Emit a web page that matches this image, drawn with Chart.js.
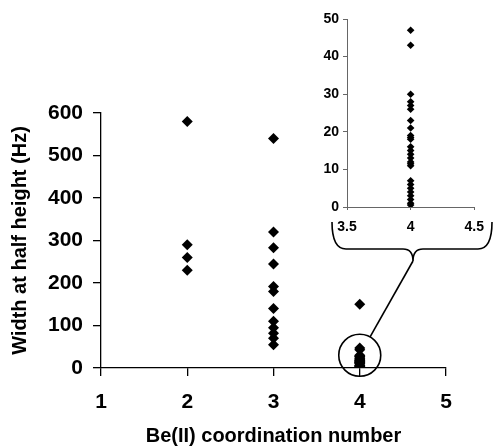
<!DOCTYPE html>
<html>
<head>
<meta charset="utf-8">
<script src="https://cdn.jsdelivr.net/npm/chart.js@4.4.1/dist/chart.umd.min.js"></script>
<style>
  html, body { margin: 0; padding: 0; background: #fff; }
  #wrap { position: relative; width: 493px; height: 448px; }
  #mainChart { position: absolute; left: 0; top: 0; }
  #insetChart { position: absolute; left: 300px; top: 0; }
</style>
</head>
<body>
<div id="wrap">
  <canvas id="mainChart" width="493" height="448"></canvas>
  <canvas id="insetChart" width="193" height="240"></canvas>
</div>
<script>
// Data
const coordNumbers = [2, 3, 4];
const widthsCN2 = [580, 290, 260, 230];
const widthsCN3 = [540, 320, 283, 245, 192, 180, 140, 110, 95, 82, 70, 55];
const widthsCN4 = [150];
// small widths at CN 4 (shown in the inset, also under the circle)
const widthsCN4Small = [47, 43, 30, 28, 27, 26, 23, 21, 19, 18.5, 18, 16, 15, 14, 13, 12, 11.5, 11, 7, 6, 5, 4, 3, 2, 1, 0.5];

const mainXTicks = [1, 2, 3, 4, 5];
const mainYTicks = [0, 100, 200, 300, 400, 500, 600];
const insetXTicks = [3.5, 4, 4.5];
const insetYTicks = [0, 10, 20, 30, 40, 50];

const FONT = "'Liberation Sans', Arial, sans-serif";

function toPoints(x, values) {
  return values.map(v => ({ x: x, y: v }));
}

const mainPoints = []
  .concat(toPoints(coordNumbers[0], widthsCN2))
  .concat(toPoints(coordNumbers[1], widthsCN3))
  .concat(toPoints(coordNumbers[2], widthsCN4))
  .concat(toPoints(coordNumbers[2], widthsCN4Small));

// circle around the CN 4 cluster + brace pointing to the inset
const zoomMarks = {
  id: 'zoomMarks',
  afterDraw(chart) {
    const ctx = chart.ctx;
    const xs = chart.scales.x, ys = chart.scales.y;
    const cx = xs.getPixelForValue(4);
    const cy = ys.getPixelForValue(30);
    const r = 21;
    ctx.save();
    ctx.strokeStyle = '#000';
    ctx.lineWidth = 1.6;
    ctx.beginPath();
    ctx.arc(cx, cy, r, 0, Math.PI * 2);
    ctx.stroke();

    // brace under the inset axis
    const L = 332, R = 492, top = 222, mid = 249, tipX = 413, tipY = 261;
    ctx.beginPath();
    ctx.moveTo(L, top);
    ctx.quadraticCurveTo(L, mid, L + 14, mid);
    ctx.lineTo(tipX - 10, mid);
    ctx.quadraticCurveTo(tipX, mid, tipX, tipY);
    ctx.quadraticCurveTo(tipX, mid, tipX + 10, mid);
    ctx.lineTo(R - 14, mid);
    ctx.quadraticCurveTo(R, mid, R, top);
    ctx.stroke();

    // connector from brace tip to the circle
    const ang = Math.atan2(tipY - cy, tipX - cx);
    ctx.beginPath();
    ctx.moveTo(tipX, tipY);
    ctx.lineTo(cx + r * Math.cos(ang), cy + r * Math.sin(ang));
    ctx.stroke();
    ctx.restore();
  }
};

new Chart(document.getElementById('mainChart'), {
  type: 'scatter',
  data: {
    datasets: [{
      data: mainPoints,
      pointStyle: 'rectRot',
      pointRadius: 5.5,
      pointHoverRadius: 5.5,
      backgroundColor: '#000',
      borderColor: '#000',
      borderWidth: 0
    }]
  },
  options: {
    responsive: false,
    animation: false,
    layout: { padding: { top: 113, right: 47, left: 0, bottom: 0 } },
    plugins: { legend: { display: false }, tooltip: { enabled: false } },
    scales: {
      x: {
        type: 'linear', min: 1, max: 5,
        afterBuildTicks: s => { s.ticks = mainXTicks.map(v => ({ value: v })); },
        afterFit: s => { s.height = 80; },
        border: { display: true, color: '#000', width: 1.3 },
        grid: { drawOnChartArea: false, drawTicks: true, tickLength: 8, color: '#000', lineWidth: 1.3 },
        ticks: { color: '#000', padding: 14, font: { family: FONT, size: 21, weight: 'bold' } },
        title: { display: true, text: 'Be(II) coordination number', color: '#000', padding: { top: 4, bottom: 0 },
                 font: { family: FONT, size: 20, weight: 'bold' } }
      },
      y: {
        type: 'linear', min: 0, max: 600,
        afterBuildTicks: s => { s.ticks = mainYTicks.map(v => ({ value: v })); },
        afterFit: s => { s.width = 101; },
        border: { display: true, color: '#000', width: 1.3 },
        grid: { drawOnChartArea: false, drawTicks: true, tickLength: 8, color: '#000', lineWidth: 1.3 },
        ticks: { color: '#000', padding: 10, font: { family: FONT, size: 21, weight: 'bold' } },
        title: { display: true, text: 'Width at half height (Hz)', color: '#000', padding: { top: 8, bottom: 2 },
                 font: { family: FONT, size: 20, weight: 'bold' } }
      }
    }
  },
  plugins: [zoomMarks]
});

new Chart(document.getElementById('insetChart'), {
  type: 'scatter',
  data: {
    datasets: [{
      data: toPoints(coordNumbers[2], widthsCN4Small),
      pointStyle: 'rectRot',
      pointRadius: 3.8,
      pointHoverRadius: 3.8,
      backgroundColor: '#000',
      borderColor: '#000',
      borderWidth: 0
    }]
  },
  options: {
    responsive: false,
    animation: false,
    layout: { padding: { top: 19, right: 16, left: 0, bottom: 0 } },
    plugins: { legend: { display: false }, tooltip: { enabled: false } },
    scales: {
      x: {
        type: 'linear', min: 3.5, max: 4.5,
        afterBuildTicks: s => { s.ticks = insetXTicks.map(v => ({ value: v })); },
        afterFit: s => { s.height = 33; },
        border: { display: true, color: '#666', width: 1 },
        grid: { drawOnChartArea: false, drawTicks: true, tickLength: 3, color: '#666' },
        ticks: { color: '#000', padding: 9, font: { family: FONT, size: 14, weight: 'bold' },
                 callback: v => String(v) }
      },
      y: {
        type: 'linear', min: 0, max: 50,
        afterBuildTicks: s => {
          const t = [];
          for (let v = 0; v <= 50; v += 5) t.push({ value: v });
          s.ticks = t;
        },
        afterFit: s => { s.width = 47; },
        border: { display: true, color: '#666', width: 1 },
        grid: { drawOnChartArea: false, drawTicks: true, tickLength: 4, color: '#666' },
        ticks: {
          color: '#000', padding: 4, font: { family: FONT, size: 14, weight: 'bold' },
          callback: v => (insetYTicks.includes(v) ? String(v) : '')
        }
      }
    }
  }
});
</script>
</body>
</html>
